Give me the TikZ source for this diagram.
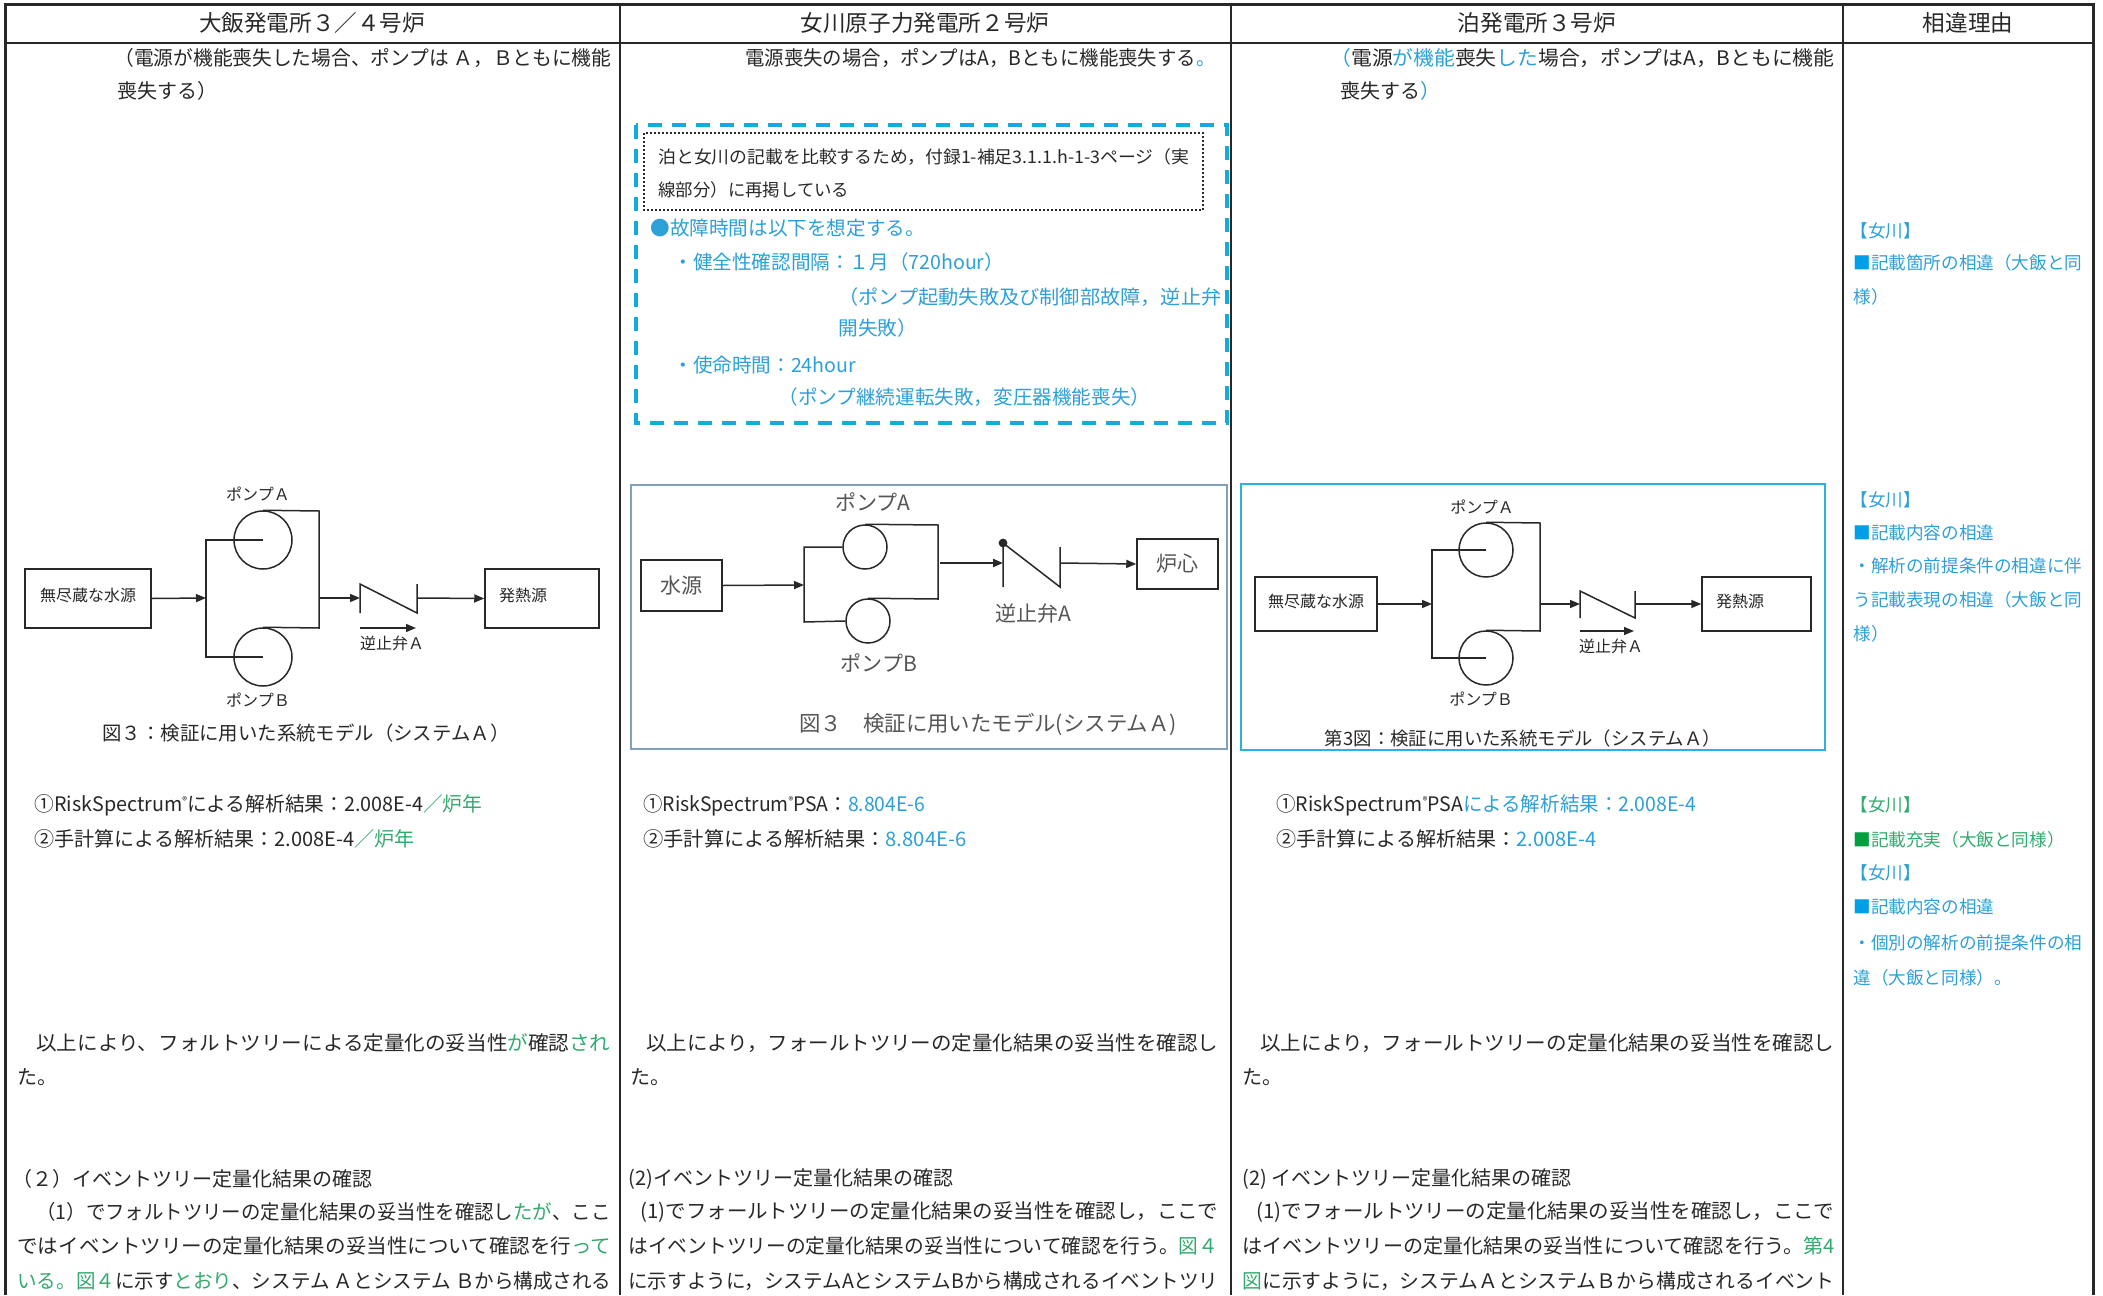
\documentclass[tikz,border=0pt]{standalone}
\usepackage{fontspec}
\setmainfont{Noto Sans CJK JP}
\usepackage{graphicx}
\usetikzlibrary{arrows.meta}
\definecolor{ink}{RGB}{40,40,40}
\definecolor{greyink}{RGB}{85,85,85}
\definecolor{bluet}{RGB}{45,160,215}
\definecolor{sqblue}{RGB}{0,160,233}
\definecolor{greent}{RGB}{50,170,110}
\definecolor{sqgreen}{RGB}{0,160,64}
\definecolor{frametwo}{RGB}{130,160,185}
\definecolor{framethree}{RGB}{40,180,220}
\definecolor{dashblue}{RGB}{20,170,220}
\newcommand{\fl}[2]{\resizebox{#1}{\height}{#2}}
\newcommand{\bt}[1]{\textcolor{bluet}{#1}}
\newcommand{\gt}[1]{\textcolor{greent}{#1}}
\newcommand{\rmark}{\raisebox{0.35em}{\fontsize{5}{5}\selectfont ®}}
\begin{document}
\begin{tikzpicture}[x=0.5pt,y=-0.5pt,
  tx/.style={anchor=west, inner sep=0pt, text=ink, font=\fontsize{10}{12}\selectfont},
  hd/.style={inner sep=0pt, text=ink, font=\fontsize{11.3}{13}\selectfont},
  bl/.style={anchor=west, inner sep=0pt, text=bluet, font=\fontsize{9.8}{12}\selectfont},
  nt/.style={anchor=west, inner sep=0pt, text=bluet, font=\fontsize{8.8}{10}\selectfont},
  ntg/.style={nt, text=greent},
  sm/.style={anchor=west, inner sep=0pt, text=ink, font=\fontsize{8.7}{10}\selectfont},
  pipe/.style={draw=ink, line width=0.75pt},
  pbox/.style={draw=ink, line width=0.75pt, rectangle, inner sep=0pt, text=ink},
  pump/.style={draw=ink, line width=0.75pt, circle, inner sep=0pt},
  arr/.style={draw=ink, line width=0.75pt, -{Triangle[length=5pt,width=4pt]}},
  lb/.style={inner sep=0pt, text=ink, font=\fontsize{8}{10}\selectfont},
  lbg/.style={inner sep=0pt, text=greyink, font=\fontsize{10.5}{12}\selectfont},
  captext/.style={inner sep=0pt, text=ink}
]
\useasboundingbox (0,0) rectangle (2103,1295);
\fill[white] (0,0) rectangle (2103,1295);

% ---------- table ----------
\draw[line width=1.5pt, ink] (5,1295) -- (5,5) -- (2093,5) -- (2093,1295);
\draw[line width=1pt, ink] (5,43) -- (2093,43);
\draw[line width=0.7pt, ink] (620,5) -- (620,1295);
\draw[line width=0.7pt, ink] (1231,5) -- (1231,1295);
\draw[line width=0.7pt, ink] (1843,5) -- (1843,1295);

\node[hd] (h1) at (312,23) {大飯発電所３／４号炉};
\node[hd] (h2) at (925,23) {女川原子力発電所２号炉};
\node[hd] (h3) at (1537,23) {泊発電所３号炉};
\node[hd] (h4) at (1968,23) {相違理由};

% ---------- top lines ----------
\node[tx] (a1) at (114,58) {\fl{248.5pt}{（電源が機能喪失した場合、ポンプは Ａ，Ｂともに機能}};
\node[tx] (a2) at (117,91) {喪失する）};
\node[tx] (b1) at (745,58) {\fl{235pt}{電源喪失の場合，ポンプはA，Bともに機能喪失する\bt{。}}};
\node[tx] (c1) at (1330,58) {\fl{252pt}{\bt{（}電源\bt{が機能}喪失\bt{した}場合，ポンプはA，Bともに機能}};
\node[tx] (c2) at (1340,91) {喪失する\bt{）}};

% ---------- dashed note box ----------
\draw[dashblue, line width=2pt, dash pattern=on 7pt off 5pt] (636,125) rectangle (1227,423);
\draw[ink, line width=0.6pt, dash pattern=on 1pt off 1pt] (644,133) rectangle (1203,210);
\node[sm] (n1) at (658,157) {\fl{265.5pt}{泊と女川の記載を比較するため，付録1-補足3.1.1.h-1-3ページ（実}};
\node[sm] (n2) at (658,190) {線部分）に再掲している};
\node[bl] (n3) at (650,228) {●故障時間は以下を想定する。};
\node[bl] (n4) at (673,262) {・健全性確認間隔：１月（720hour）};
\node[bl] (n5) at (838,297) {\fl{191.5pt}{（ポンプ起動失敗及び制御部故障，逆止弁}};
\node[bl] (n6) at (838,328) {開失敗）};
\node[bl] (n7) at (673,365) {・使命時間：24hour};
\node[bl] (n8) at (778,397) {\fl{186pt}{（ポンプ継続運転失敗，変圧器機能喪失）}};

% ---------- notes column ----------
\node[nt] (m1) at (1850,231) {【女川】};
\node[nt] (m2) at (1853,263) {\textcolor{sqblue}{■}記載箇所の相違（大飯と同};
\node[nt] (m3) at (1853,297) {様）};
\node[nt] (m4) at (1850,500) {【女川】};
\node[nt] (m5) at (1853,533) {\textcolor{sqblue}{■}記載内容の相違};
\node[nt] (m6) at (1853,566) {・解析の前提条件の相違に伴};
\node[nt] (m7) at (1853,600) {う記載表現の相違（大飯と同};
\node[nt] (m8) at (1853,634) {様）};
\node[ntg] (m9) at (1850,805) {【女川】};
\node[ntg] (m10) at (1853,840) {\textcolor{sqgreen}{■}記載充実（大飯と同様）};
\node[nt] (m11) at (1850,873) {【女川】};
\node[nt] (m12) at (1853,907) {\textcolor{sqblue}{■}記載内容の相違};
\node[nt] (m13) at (1853,943) {・個別の解析の前提条件の相};
\node[nt] (m14) at (1853,978) {違（大飯と同様）。};

% ---------- diagram 1 ----------
\node[pbox, lb, draw=ink, minimum width=63pt, minimum height=29.5pt] (src1) at (88,598.5) {\raisebox{4pt}{無尽蔵な水源}};
\node[pbox, lb, draw=ink, minimum width=57pt, minimum height=29.5pt, inner xsep=7pt, text width=43pt, align=left] (heat1) at (542,598.5) {\raisebox{4pt}{発熱源}};
\node[pump, minimum size=29pt] (pA1) at (263,540) {};
\node[pump, minimum size=29pt] (pB1) at (263,657) {};
\coordinate (j1) at (206,598);
\coordinate (j1r) at (319,598);
\coordinate (v1a) at (360,584);
\coordinate (v1b) at (360,613);
\coordinate (v1c) at (417,584);
\coordinate (v1d) at (417,613);
\coordinate (v1in) at (360,598);
\coordinate (v1out) at (417,598);
\coordinate (f1a) at (360,628);
\coordinate (f1b) at (416,628);
\draw[arr] (src1.east) -- (j1);
\draw[pipe] (pA1.center) -- (206,540) -- (206,657) -- (pB1.center);
\draw[pipe] (pA1.north) -- (319,511) -- (319,628) -- (pB1.north);
\draw[arr] (j1r) -- (v1in);
\draw[pipe] (v1b) -- (v1a) -- (v1d) -- (v1c);
\draw[arr] (v1out) -- (heat1.west);
\draw[arr] (f1a) -- (f1b);
\node[lb] (lA1) at (258,494) {ポンプＡ};
\node[lb] (lB1) at (258,700) {ポンプＢ};
\node[lb] (lv1) at (392,643) {逆止弁Ａ};
\node[captext, font=\fontsize{9.7}{12}\selectfont] (cap1) at (306,733) {図３：検証に用いた系統モデル（システムＡ）};

% ---------- diagram 2 ----------
\draw[frametwo, line width=0.7pt] (631,485) rectangle (1227,749);
\node[pbox, lbg, draw=ink, minimum width=40.5pt, minimum height=25.5pt] (src2) at (681.5,585.5) {水源};
\node[pbox, lbg, draw=ink, minimum width=40.5pt, minimum height=25pt] (core2) at (1177.5,564) {炉心};
\node[pump, minimum size=22pt] (pA2) at (865,547) {};
\node[pump, minimum size=22pt] (pB2) at (868,621) {};
\coordinate (j2) at (804,585);
\coordinate (j2r) at (940,563);
\coordinate (v2in) at (1003,563);
\coordinate (v2a) at (1003,543);
\coordinate (v2b) at (1003,587);
\coordinate (v2c) at (1060,547);
\coordinate (v2d) at (1060,587);
\coordinate (v2out) at (1060,563);
\draw[arr] (src2.east) -- (j2);
\draw[pipe] (pA2.west) -- (804,547) -- (804,622) -- (pB2.west);
\draw[pipe] (pA2.north) -- (938,525) -- (938,599) -- (pB2.north);
\draw[arr, line width=1pt] (j2r) -- (v2in);
\draw[pipe] (v2b) -- (v2a) -- (v2d) -- (v2c);
\fill[ink] (v2a) circle (2.2pt);
\draw[arr] (v2out) -- (core2.west);
\node[lbg] (lA2) at (873,502) {ポンプA};
\node[lbg] (lB2) at (879,663) {ポンプB};
\node[lbg] (lv2) at (1033,613) {逆止弁A};
\node[captext, text=greyink, font=\fontsize{10.7}{12}\selectfont] (cap2) at (988,724) {図３　検証に用いたモデル(システムＡ)};

% ---------- diagram 3 ----------
\draw[framethree, line width=0.8pt] (1241,484) rectangle (1825,750);
\node[pbox, lb, draw=ink, minimum width=61pt, minimum height=27pt] (src3) at (1316,604) {\raisebox{3.5pt}{無尽蔵な水源}};
\node[pbox, lb, draw=ink, minimum width=54.5pt, minimum height=27pt, inner xsep=7pt, text width=40.5pt, align=left] (heat3) at (1756.5,604) {\raisebox{3.5pt}{発熱源}};
\node[pump, minimum size=27pt] (pA3) at (1486,550) {};
\node[pump, minimum size=27pt] (pB3) at (1486,658) {};
\coordinate (j3) at (1432,604);
\coordinate (j3r) at (1540,604);
\coordinate (v3a) at (1580,591);
\coordinate (v3b) at (1580,618);
\coordinate (v3c) at (1635,591);
\coordinate (v3d) at (1635,618);
\coordinate (v3in) at (1580,604);
\coordinate (v3out) at (1635,604);
\coordinate (f3a) at (1580,631);
\coordinate (f3b) at (1634,631);
\draw[arr] (src3.east) -- (j3);
\draw[pipe] (pA3.center) -- (1432,550) -- (1432,658) -- (pB3.center);
\draw[pipe] (pA3.north) -- (1540,523) -- (1540,631) -- (pB3.north);
\draw[arr] (j3r) -- (v3in);
\draw[pipe] (v3b) -- (v3a) -- (v3d) -- (v3c);
\draw[arr] (v3out) -- (heat3.west);
\draw[arr] (f3a) -- (f3b);
\node[lb] (lA3) at (1482,507) {ポンプＡ};
\node[lb] (lB3) at (1481,699) {ポンプＢ};
\node[lb] (lv3) at (1611,646) {逆止弁Ａ};
\node[captext, font=\fontsize{9.2}{12}\selectfont] (cap3) at (1523,738) {第3図：検証に用いた系統モデル（システムＡ）};

% ---------- results ----------
\node[tx] (r1) at (34,805) {\fl{224pt}{①RiskSpectrum\rmark による解析結果：2.008E-4\gt{／炉年}}};
\node[tx] (r2) at (34,839) {\fl{190pt}{②手計算による解析結果：2.008E-4\gt{／炉年}}};
\node[tx] (r3) at (643,805) {\fl{141pt}{①RiskSpectrum\rmark PSA：\bt{8.804E-6}}};
\node[tx] (r4) at (643,839) {\fl{161.5pt}{②手計算による解析結果：\bt{8.804E-6}}};
\node[tx] (r5) at (1276,805) {\fl{210pt}{①RiskSpectrum\rmark PSA\bt{による解析結果：2.008E-4}}};
\node[tx] (r6) at (1276,839) {\fl{160pt}{②手計算による解析結果：\bt{2.008E-4}}};

% ---------- bottom text col 1 ----------
\node[tx] (s1) at (36,1043) {\fl{287pt}{以上により、フォルトツリーによる定量化の妥当性\gt{が}確認\gt{され}}};
\node[tx] (s2) at (17,1077) {た。};
\node[tx] (s3) at (12,1179) {（２）イベントツリー定量化結果の確認};
\node[tx] (s4) at (36,1212) {\fl{287pt}{（1）でフォルトツリーの定量化結果の妥当性を確認し\gt{たが}、ここ}};
\node[tx] (s5) at (17,1246) {\fl{297pt}{ではイベントツリーの定量化結果の妥当性について確認を行\gt{って}}};
\node[tx] (s6) at (17,1281) {\fl{297pt}{\gt{いる。図４}に示す\gt{とおり}、システム Ａとシステム Ｂから構成される}};

% ---------- bottom text col 2 ----------
\node[tx] (t1) at (646,1043) {\fl{286pt}{以上により，フォールトツリーの定量化結果の妥当性を確認し}};
\node[tx] (t2) at (630,1077) {た。};
\node[tx] (t3) at (628,1179) {(2)イベントツリー定量化結果の確認};
\node[tx] (t4) at (640,1212) {\fl{289pt}{(1)でフォールトツリーの定量化結果の妥当性を確認し，ここで}};
\node[tx] (t5) at (628,1246) {\fl{295pt}{はイベントツリーの定量化結果の妥当性について確認を行う。\gt{図４}}};
\node[tx] (t6) at (628,1281) {\fl{295pt}{に示すように，システムAとシステムBから構成されるイベントツリ}};

% ---------- bottom text col 3 ----------
\node[tx] (u1) at (1260,1043) {\fl{287pt}{以上により，フォールトツリーの定量化結果の妥当性を確認し}};
\node[tx] (u2) at (1242,1077) {た。};
\node[tx] (u3) at (1242,1179) {(2) イベントツリー定量化結果の確認};
\node[tx] (u4) at (1256,1212) {\fl{289pt}{(1)でフォールトツリーの定量化結果の妥当性を確認し，ここで}};
\node[tx] (u5) at (1242,1246) {\fl{296pt}{はイベントツリーの定量化結果の妥当性について確認を行う。\gt{第4}}};
\node[tx] (u6) at (1242,1281) {\fl{296pt}{\gt{図}に示すように，システムＡとシステムＢから構成されるイベント}};
\end{tikzpicture}
\end{document}
